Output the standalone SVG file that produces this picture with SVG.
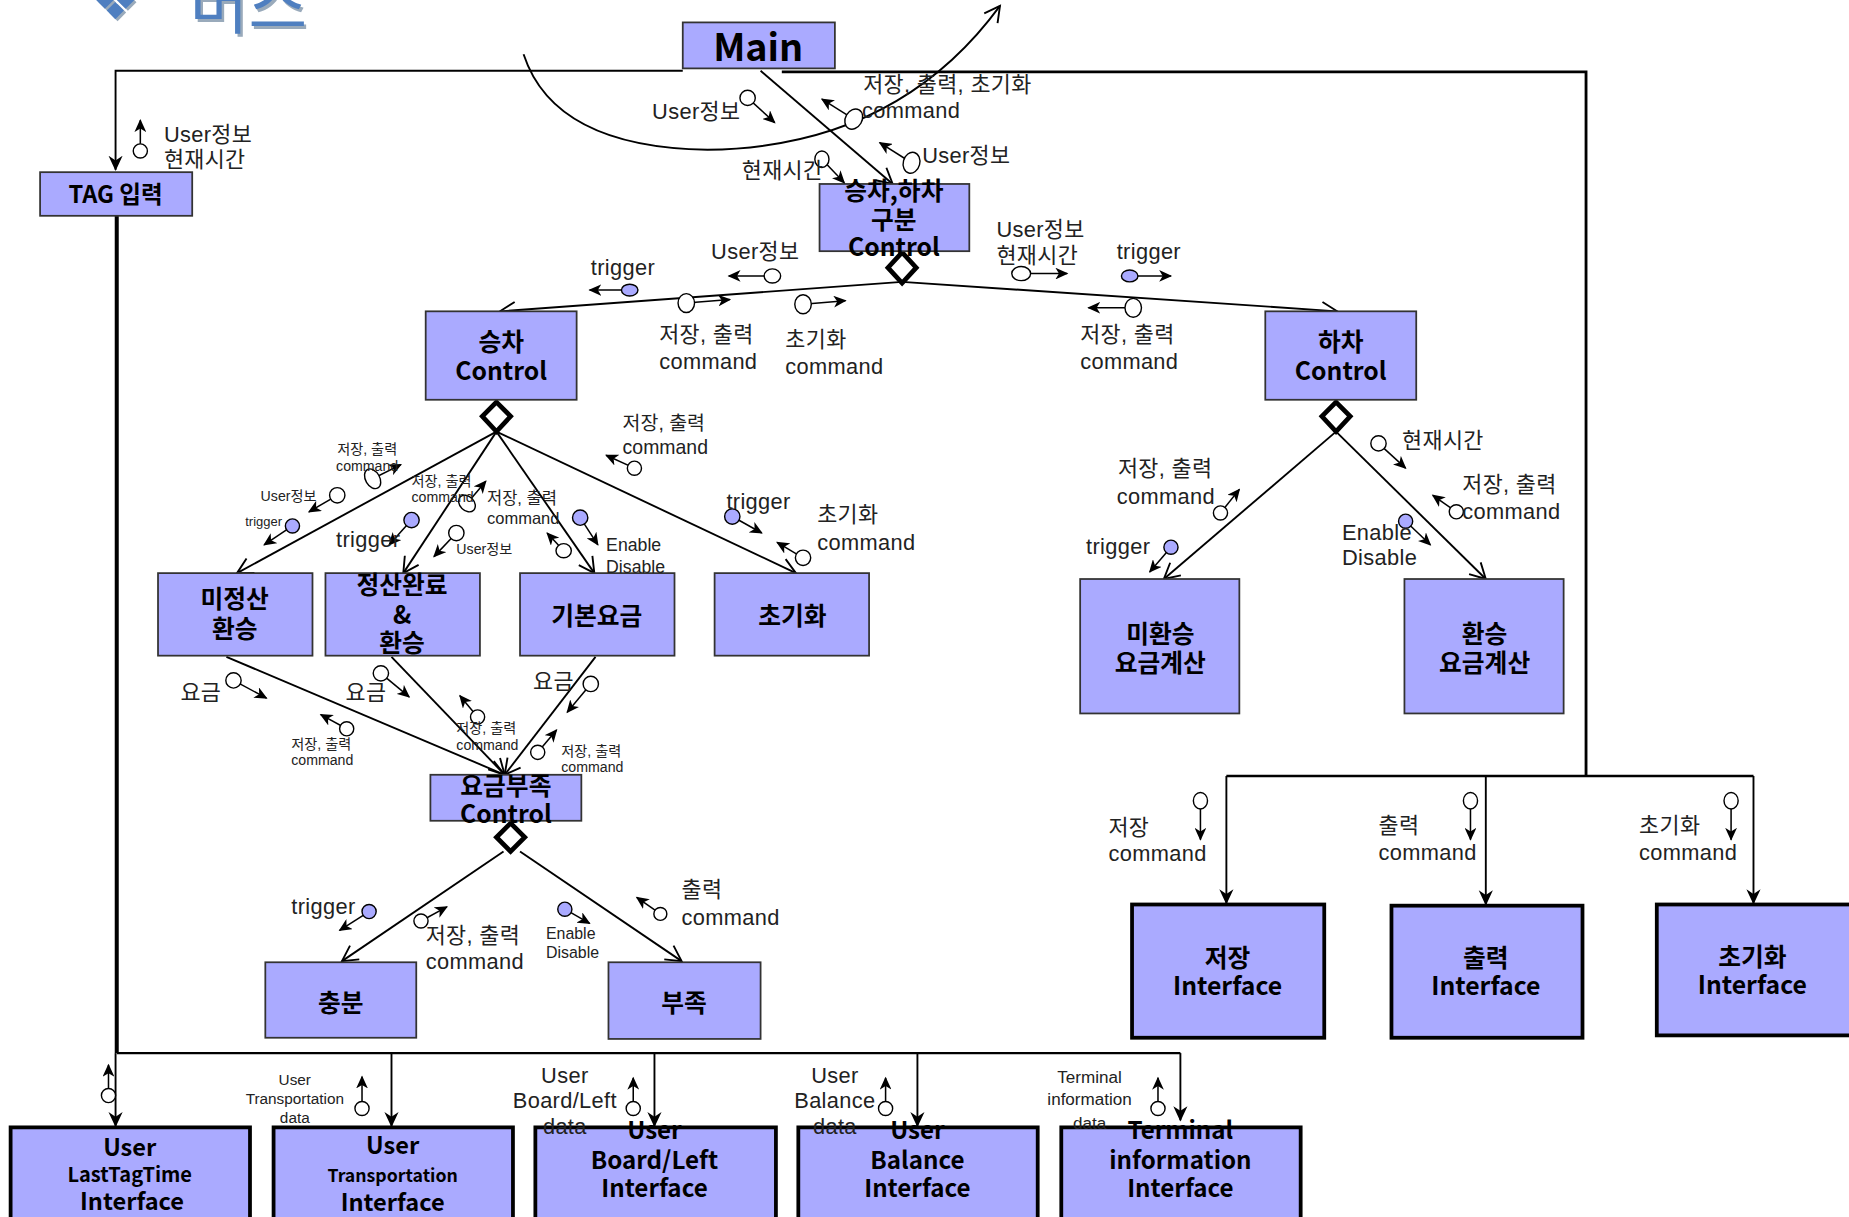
<svg xmlns="http://www.w3.org/2000/svg" width="1849" height="1217" viewBox="0 0 1849 1217">
<style>
.box{fill:#aaaaff;stroke:#333;stroke-width:1.5}
.ibox{fill:#aaaaff;stroke:#000;stroke-width:3.2}
.nt{font-family:"Noto Sans CJK KR","Noto Sans",sans-serif;font-weight:bold;fill:#000;text-anchor:middle}
.lb{font-family:"Liberation Sans","Noto Sans CJK KR",sans-serif;fill:#222}
.c{text-anchor:middle}
.L{font-size:18.5px;letter-spacing:0.3px}
.M{font-size:16.5px}
.S{font-size:12px}
.ln{stroke:#000;stroke-width:1.6;fill:none}
.dia{fill:#fff;stroke:#000;stroke-width:4}
.gl{stroke:#000;stroke-width:1.3;fill:none}
.gc{fill:#fff;stroke:#000;stroke-width:1.2}
.gf{fill:#aaaaff;stroke:#000;stroke-width:1.2}
</style>
<defs>
<marker id="fa" markerUnits="userSpaceOnUse" markerWidth="12" markerHeight="10" refX="10" refY="5" orient="auto" viewBox="0 0 12 10">
<path d="M0,0 L11,5 L0,10 L3,5 z" fill="#000"/>
</marker>
<marker id="oa" markerUnits="userSpaceOnUse" markerWidth="16" markerHeight="16" refX="14" refY="8" orient="auto" viewBox="0 0 16 16">
<path d="M1,1 L14,8 L1,15" fill="none" stroke="#000" stroke-width="1.6"/>
</marker>
<marker id="ba" markerUnits="userSpaceOnUse" markerWidth="14" markerHeight="14" refX="12" refY="7" orient="auto" viewBox="0 0 14 14">
<path d="M0,1 L13,7 L0,13 L4,7 z" fill="#000"/>
</marker>
</defs>
<rect x="0" y="0" width="1849" height="1217" fill="#fff"/>
<g transform="scale(1.17921,1.17926)">
<g id="title">
<text x="80" y="18" font-family="DejaVu Sans,sans-serif" font-size="44" fill="#9ab">❖</text>
<text x="78" y="16" font-family="DejaVu Sans,sans-serif" font-size="44" fill="#4f7fc0">❖</text>
<text x="163" y="26" font-family="Noto Sans CJK KR,sans-serif" font-size="54" fill="#9ab">버스</text>
<text x="161" y="24" font-family="Noto Sans CJK KR,sans-serif" font-size="54" fill="#4f7fc0">버스</text>
</g>
<g id="connectors">
<polyline class="ln" points="579,60 98,60 98,144" marker-end="url(#ba)"/>
<polyline class="ln" points="663,61 1345,61 1345,658" style="stroke-width:2.4"/>
<line class="ln" x1="1040" y1="658" x2="1487" y2="658" style="stroke-width:2"/>
<line class="ln" x1="1040" y1="658" x2="1040" y2="766" marker-end="url(#ba)"/>
<line class="ln" x1="1260" y1="658" x2="1260" y2="767" marker-end="url(#ba)"/>
<line class="ln" x1="1487" y1="658" x2="1487" y2="766" marker-end="url(#ba)"/>
<line class="ln" x1="645" y1="60" x2="757" y2="156" marker-end="url(#oa)"/>
<path class="ln" d="M444,46 Q470,125 600,127 Q760,125 848,5" marker-end="url(#oa)"/>
<line class="ln" x1="765" y1="239" x2="424" y2="264" marker-end="url(#oa)"/>
<line class="ln" x1="765" y1="239" x2="1134" y2="264" marker-end="url(#oa)"/>
<line class="ln" x1="421" y1="366" x2="201" y2="486" marker-end="url(#oa)"/>
<line class="ln" x1="421" y1="366" x2="342" y2="486" marker-end="url(#oa)"/>
<line class="ln" x1="421" y1="366" x2="504" y2="486" marker-end="url(#oa)"/>
<line class="ln" x1="421" y1="366" x2="675" y2="486" marker-end="url(#oa)"/>
<line class="ln" x1="1133" y1="366" x2="987" y2="491" marker-end="url(#oa)"/>
<line class="ln" x1="1133" y1="366" x2="1260" y2="491" marker-end="url(#oa)"/>
<line class="ln" x1="192" y1="557" x2="428" y2="657" marker-end="url(#oa)"/>
<line class="ln" x1="332" y1="557" x2="428" y2="657" marker-end="url(#oa)"/>
<line class="ln" x1="505" y1="557" x2="428" y2="657" marker-end="url(#oa)"/>
<line class="ln" x1="427" y1="722" x2="290" y2="815" marker-end="url(#oa)"/>
<line class="ln" x1="441" y1="722" x2="578" y2="815" marker-end="url(#oa)"/>
<line class="ln" x1="99" y1="183" x2="99" y2="893" style="stroke-width:3.4"/>
<line class="ln" x1="99" y1="893" x2="1001" y2="893" style="stroke-width:2"/>
<line class="ln" x1="98" y1="893" x2="98" y2="955" marker-end="url(#ba)"/>
<line class="ln" x1="332" y1="893" x2="332" y2="955" marker-end="url(#ba)"/>
<line class="ln" x1="555" y1="893" x2="555" y2="955" marker-end="url(#ba)"/>
<line class="ln" x1="778" y1="893" x2="778" y2="955" marker-end="url(#ba)"/>
<line class="ln" x1="1001" y1="893" x2="1001" y2="950" marker-end="url(#ba)"/>
<polygon class="dia" points="765,214 777,227 765,240 753,227"/>
<polygon class="dia" points="421,341 433,353 421,366 409,353"/>
<polygon class="dia" points="1133,341 1145,353 1133,366 1121,353"/>
<polygon class="dia" points="433,698 445,710 433,722 421,710"/>
</g>
<g id="node-main"><rect class="box" x="579" y="19" width="129" height="39"/><text class="nt" x="643" y="52" font-size="32">Main</text></g>
<g id="node-tag"><rect class="box" x="34" y="146" width="129" height="37"/><text class="nt" x="98" y="172" font-size="20">TAG 입력</text></g>
<g id="node-gubun"><rect class="box" x="695" y="156" width="127" height="57"/><text class="nt" x="758" y="170" font-size="21">승차,하차</text><text class="nt" x="758" y="194" font-size="21">구분</text><text class="nt" x="758" y="217" font-size="21">Control</text></g>
<g id="node-seungcha"><rect class="box" x="361" y="264" width="128" height="75"/><text class="nt" x="425" y="298" font-size="21">승차</text><text class="nt" x="425" y="322" font-size="21">Control</text></g>
<g id="node-hacha"><rect class="box" x="1073" y="264" width="128" height="75"/><text class="nt" x="1137" y="298" font-size="21">하차</text><text class="nt" x="1137" y="322" font-size="21">Control</text></g>
<g id="node-mijeongsan"><rect class="box" x="134" y="486" width="131" height="70"/><text class="nt" x="199" y="516" font-size="21">미정산</text><text class="nt" x="199" y="541" font-size="21">환승</text></g>
<g id="node-jeongsan"><rect class="box" x="276" y="486" width="131" height="70"/><text class="nt" x="341" y="504" font-size="21">정산완료</text><text class="nt" x="341" y="529" font-size="21">&amp;</text><text class="nt" x="341" y="553" font-size="21">환승</text></g>
<g id="node-gibon"><rect class="box" x="441" y="486" width="131" height="70"/><text class="nt" x="506" y="530" font-size="21">기본요금</text></g>
<g id="node-init"><rect class="box" x="606" y="486" width="131" height="70"/><text class="nt" x="672" y="530" font-size="21">초기화</text></g>
<g id="node-yogeum"><rect class="box" x="365" y="657" width="128" height="39"/><text class="nt" x="429" y="674" font-size="21">요금부족</text><text class="nt" x="429" y="698" font-size="21">Control</text></g>
<g id="node-chungbun"><rect class="box" x="225" y="816" width="128" height="64"/><text class="nt" x="289" y="858" font-size="21">충분</text></g>
<g id="node-bujok"><rect class="box" x="516" y="816" width="129" height="65"/><text class="nt" x="580" y="858" font-size="21">부족</text></g>
<g id="node-mihwan"><rect class="box" x="916" y="491" width="135" height="114"/><text class="nt" x="984" y="545" font-size="21">미환승</text><text class="nt" x="984" y="570" font-size="21">요금계산</text></g>
<g id="node-hwan"><rect class="box" x="1191" y="491" width="135" height="114"/><text class="nt" x="1259" y="545" font-size="21">환승</text><text class="nt" x="1259" y="570" font-size="21">요금계산</text></g>
<g id="node-save-if"><rect class="ibox" x="960" y="767" width="163" height="113"/><text class="nt" x="1041" y="820" font-size="21">저장</text><text class="nt" x="1041" y="844" font-size="21">Interface</text></g>
<g id="node-print-if"><rect class="ibox" x="1180" y="768" width="162" height="112"/><text class="nt" x="1260" y="820" font-size="21">출력</text><text class="nt" x="1260" y="844" font-size="21">Interface</text></g>
<g id="node-init-if"><rect class="ibox" x="1405" y="767" width="170" height="111"/><text class="nt" x="1486" y="819" font-size="21">초기화</text><text class="nt" x="1486" y="843" font-size="21">Interface</text></g>
<g id="node-lasttag"><rect class="ibox" x="9" y="956" width="203" height="90"/><text class="nt" x="110" y="980" font-size="20">User</text><text class="nt" x="110" y="1002" font-size="17">LastTagTime</text><text class="nt" x="112" y="1026" font-size="20">Interface</text></g>
<g id="node-transport"><rect class="ibox" x="232" y="956" width="203" height="90"/><text class="nt" x="333" y="979" font-size="20">User</text><text class="nt" x="333" y="1002" font-size="15">Transportation</text><text class="nt" x="333" y="1027" font-size="20">Interface</text></g>
<g id="node-boardleft"><rect class="ibox" x="454" y="956" width="204" height="90"/><text class="nt" x="555" y="966" font-size="20.5">User</text><text class="nt" x="555" y="991" font-size="20.5">Board/Left</text><text class="nt" x="555" y="1015" font-size="20.5">Interface</text></g>
<g id="node-balance"><rect class="ibox" x="677" y="956" width="203" height="90"/><text class="nt" x="778" y="966" font-size="20.5">User</text><text class="nt" x="778" y="991" font-size="20.5">Balance</text><text class="nt" x="778" y="1015" font-size="20.5">Interface</text></g>
<g id="node-terminal"><rect class="ibox" x="900" y="956" width="203" height="90"/><text class="nt" x="1001" y="966" font-size="20.5">Terminal</text><text class="nt" x="1001" y="991" font-size="20.5">information</text><text class="nt" x="1001" y="1015" font-size="20.5">Interface</text></g>
<g id="flows">
<line class="gl" x1="119" y1="128" x2="119" y2="102" marker-end="url(#fa)"/><circle class="gc" cx="119" cy="128" r="6"/>
<line class="gl" x1="634" y1="83" x2="657" y2="104" marker-end="url(#fa)"/><circle class="gc" cx="634" cy="83" r="6.5"/>
<line class="gl" x1="724" y1="101" x2="697" y2="84" marker-end="url(#fa)"/><ellipse class="gc" cx="724" cy="101" rx="7" ry="9" transform="rotate(30 724 101)"/>
<line class="gl" x1="697" y1="135" x2="716" y2="155" marker-end="url(#fa)"/><ellipse class="gc" cx="697" cy="135" rx="6" ry="7"/>
<line class="gl" x1="773" y1="138" x2="746" y2="121" marker-end="url(#fa)"/><ellipse class="gc" cx="773" cy="138" rx="7" ry="9" transform="rotate(15 773 138)"/>
<line class="gl" x1="534" y1="246" x2="500" y2="246" marker-end="url(#fa)"/><ellipse class="gf" cx="534" cy="246" rx="7" ry="5"/>
<line class="gl" x1="655" y1="234" x2="618" y2="234" marker-end="url(#fa)"/><ellipse class="gc" cx="655" cy="234" rx="7" ry="6"/>
<line class="gl" x1="582" y1="257" x2="619" y2="254" marker-end="url(#fa)"/><ellipse class="gc" cx="582" cy="257" rx="7" ry="8"/>
<line class="gl" x1="681" y1="258" x2="717" y2="255" marker-end="url(#fa)"/><ellipse class="gc" cx="681" cy="258" rx="7" ry="8"/>
<line class="gl" x1="866" y1="232" x2="905" y2="232" marker-end="url(#fa)"/><ellipse class="gc" cx="866" cy="232" rx="8" ry="6"/>
<line class="gl" x1="958" y1="234" x2="993" y2="234" marker-end="url(#fa)"/><ellipse class="gf" cx="958" cy="234" rx="7" ry="5"/>
<line class="gl" x1="961" y1="261" x2="923" y2="261" marker-end="url(#fa)"/><ellipse class="gc" cx="961" cy="261" rx="7" ry="8"/>
<line class="gl" x1="538" y1="397" x2="514" y2="386" marker-end="url(#fa)"/><circle class="gc" cx="538" cy="397" r="6"/>
<line class="gl" x1="316" y1="406" x2="340" y2="394" marker-end="url(#fa)"/><ellipse class="gc" cx="316" cy="406" rx="6" ry="9" transform="rotate(-30 316 406)"/>
<line class="gl" x1="286" y1="420" x2="262" y2="434" marker-end="url(#fa)"/><circle class="gc" cx="286" cy="420" r="6.5"/>
<line class="gl" x1="248" y1="446" x2="224" y2="462" marker-end="url(#fa)"/><circle class="gf" cx="248" cy="446" r="6"/>
<line class="gl" x1="396" y1="427" x2="412" y2="408" marker-end="url(#fa)"/><ellipse class="gc" cx="396" cy="427" rx="6" ry="8" transform="rotate(-45 396 427)"/>
<line class="gl" x1="349" y1="441" x2="330" y2="462" marker-end="url(#fa)"/><circle class="gf" cx="349" cy="441" r="6.5"/>
<line class="gl" x1="387" y1="452" x2="368" y2="472" marker-end="url(#fa)"/><circle class="gc" cx="387" cy="452" r="6.5"/>
<line class="gl" x1="478" y1="467" x2="464" y2="452" marker-end="url(#fa)"/><ellipse class="gc" cx="478" cy="467" rx="6.5" ry="6"/>
<line class="gl" x1="492" y1="439" x2="507" y2="462" marker-end="url(#fa)"/><circle class="gf" cx="492" cy="439" r="6.5"/>
<line class="gl" x1="621" y1="438" x2="646" y2="452" marker-end="url(#fa)"/><circle class="gf" cx="621" cy="438" r="6.5"/>
<line class="gl" x1="681" y1="473" x2="659" y2="460" marker-end="url(#fa)"/><circle class="gc" cx="681" cy="473" r="6.5"/>
<line class="gl" x1="198" y1="577" x2="226" y2="592" marker-end="url(#fa)"/><circle class="gc" cx="198" cy="577" r="6.5"/>
<line class="gl" x1="323" y1="571" x2="347" y2="591" marker-end="url(#fa)"/><circle class="gc" cx="323" cy="571" r="6.5"/>
<line class="gl" x1="294" y1="618" x2="272" y2="606" marker-end="url(#fa)"/><circle class="gc" cx="294" cy="618" r="6"/>
<line class="gl" x1="405" y1="608" x2="390" y2="590" marker-end="url(#fa)"/><circle class="gc" cx="405" cy="608" r="6"/>
<line class="gl" x1="501" y1="580" x2="481" y2="604" marker-end="url(#fa)"/><circle class="gc" cx="501" cy="580" r="6.5"/>
<line class="gl" x1="456" y1="638" x2="472" y2="619" marker-end="url(#fa)"/><circle class="gc" cx="456" cy="638" r="6"/>
<line class="gl" x1="313" y1="773" x2="288" y2="789" marker-end="url(#fa)"/><circle class="gf" cx="313" cy="773" r="6"/>
<line class="gl" x1="357" y1="781" x2="379" y2="769" marker-end="url(#fa)"/><circle class="gc" cx="357" cy="781" r="6"/>
<line class="gl" x1="479" y1="771" x2="500" y2="783" marker-end="url(#fa)"/><circle class="gf" cx="479" cy="771" r="6"/>
<line class="gl" x1="560" y1="775" x2="540" y2="761" marker-end="url(#fa)"/><circle class="gc" cx="560" cy="775" r="5.5"/>
<line class="gl" x1="1169" y1="376" x2="1192" y2="397" marker-end="url(#fa)"/><circle class="gc" cx="1169" cy="376" r="6.5"/>
<line class="gl" x1="1035" y1="435" x2="1051" y2="415" marker-end="url(#fa)"/><circle class="gc" cx="1035" cy="435" r="6"/>
<line class="gl" x1="993" y1="464" x2="975" y2="485" marker-end="url(#fa)"/><circle class="gf" cx="993" cy="464" r="6"/>
<line class="gl" x1="1235" y1="434" x2="1215" y2="420" marker-end="url(#fa)"/><circle class="gc" cx="1235" cy="434" r="6"/>
<line class="gl" x1="1192" y1="442" x2="1213" y2="462" marker-end="url(#fa)"/><circle class="gf" cx="1192" cy="442" r="6"/>
<line class="gl" x1="1018" y1="679" x2="1018" y2="712" marker-end="url(#fa)"/><ellipse class="gc" cx="1018" cy="679" rx="6" ry="7"/>
<line class="gl" x1="1247" y1="679" x2="1247" y2="712" marker-end="url(#fa)"/><ellipse class="gc" cx="1247" cy="679" rx="6" ry="7"/>
<line class="gl" x1="1468" y1="679" x2="1468" y2="712" marker-end="url(#fa)"/><ellipse class="gc" cx="1468" cy="679" rx="6" ry="7"/>
<line class="gl" x1="92" y1="929" x2="92" y2="903" marker-end="url(#fa)"/><circle class="gc" cx="92" cy="929" r="6"/>
<line class="gl" x1="307" y1="940" x2="307" y2="913" marker-end="url(#fa)"/><circle class="gc" cx="307" cy="940" r="6"/>
<line class="gl" x1="537" y1="940" x2="537" y2="914" marker-end="url(#fa)"/><circle class="gc" cx="537" cy="940" r="6"/>
<line class="gl" x1="751" y1="940" x2="751" y2="914" marker-end="url(#fa)"/><circle class="gc" cx="751" cy="940" r="6"/>
<line class="gl" x1="982" y1="940" x2="982" y2="914" marker-end="url(#fa)"/><circle class="gc" cx="982" cy="940" r="6"/>
</g>
<g id="labels" class="lb">
<text class="L" x="139" y="120">User정보</text><text class="L" x="139" y="142">현재시간</text>
<text class="L" x="553" y="101">User정보</text>
<text class="L" x="732" y="78">저장, 출력, 초기화</text><text class="L" x="731" y="100">command</text>
<text class="L" x="629" y="151">현재시간</text>
<text class="L" x="782" y="138">User정보</text>
<text class="L" x="501" y="233">trigger</text>
<text class="L" x="603" y="220">User정보</text>
<text class="L" x="559" y="290">저장, 출력</text><text class="L" x="559" y="313">command</text>
<text class="L" x="666" y="294">초기화</text><text class="L" x="666" y="317">command</text>
<text class="L" x="845" y="201">User정보</text><text class="L" x="845" y="223">현재시간</text>
<text class="L" x="947" y="220">trigger</text>
<text class="L" x="916" y="290">저장, 출력</text><text class="L" x="916" y="313">command</text>
<text class="M" x="528" y="365">저장, 출력</text><text class="M" x="528" y="385">command</text>
<text class="S" x="286" y="385">저장, 출력</text><text class="S" x="285" y="399">command</text>
<text class="S" x="221" y="425">User정보</text>
<text x="208" y="446" font-size="11">trigger</text>
<text class="S" x="349" y="412">저장, 출력</text><text class="S" x="349" y="426">command</text>
<text x="413" y="427" font-size="14">저장, 출력</text><text x="413" y="444" font-size="14">command</text>
<text class="L" x="285" y="464">trigger</text>
<text class="S" x="387" y="470">User정보</text>
<text x="514" y="467" font-size="15">Enable</text><text x="514" y="486" font-size="15">Disable</text>
<text class="L" x="616" y="432">trigger</text>
<text class="L" x="693" y="443">초기화</text><text class="L" x="693" y="466">command</text>
<text class="L" x="153" y="594">요금</text>
<text class="L" x="293" y="594">요금</text>
<text class="L" x="452" y="584">요금</text>
<text class="S" x="247" y="635">저장, 출력</text><text class="S" x="247" y="649">command</text>
<text class="S" x="387" y="622">저장, 출력</text><text class="S" x="387" y="636">command</text>
<text class="S" x="476" y="641">저장, 출력</text><text class="S" x="476" y="655">command</text>
<text class="L" x="247" y="775">trigger</text>
<text class="L" x="361" y="800">저장, 출력</text><text class="L" x="361" y="822">command</text>
<text x="463" y="796" font-size="13.5">Enable</text><text x="463" y="812" font-size="13.5">Disable</text>
<text class="L" x="578" y="761">출력</text><text class="L" x="578" y="784">command</text>
<text class="L" x="1189" y="380">현재시간</text>
<text class="L" x="948" y="404">저장, 출력</text><text class="L" x="947" y="427">command</text>
<text class="L" x="921" y="470">trigger</text>
<text class="L" x="1240" y="417">저장, 출력</text><text class="L" x="1240" y="440">command</text>
<text class="L" x="1138" y="458">Enable</text><text class="L" x="1138" y="479">Disable</text>
<text class="L" x="940" y="708">저장</text><text class="L" x="940" y="730">command</text>
<text class="L" x="1169" y="706">출력</text><text class="L" x="1169" y="729">command</text>
<text class="L" x="1390" y="706">초기화</text><text class="L" x="1390" y="729">command</text>
<text class="c" x="250" y="920" font-size="13">User</text><text class="c" x="250" y="936" font-size="13">Transportation</text><text class="c" x="250" y="952" font-size="13">data</text>
<text class="c L" x="479" y="918">User</text><text class="c L" x="479" y="940">Board/Left</text><text class="c L" x="479" y="962">data</text>
<text class="c L" x="708" y="918">User</text><text class="c L" x="708" y="940">Balance</text><text class="c L" x="708" y="962">data</text>
<text class="c" x="924" y="918" font-size="14.5">Terminal</text><text class="c" x="924" y="937" font-size="14.5">information</text><text class="c" x="924" y="957" font-size="14.5">data</text>
</g>
</g>
</svg>
